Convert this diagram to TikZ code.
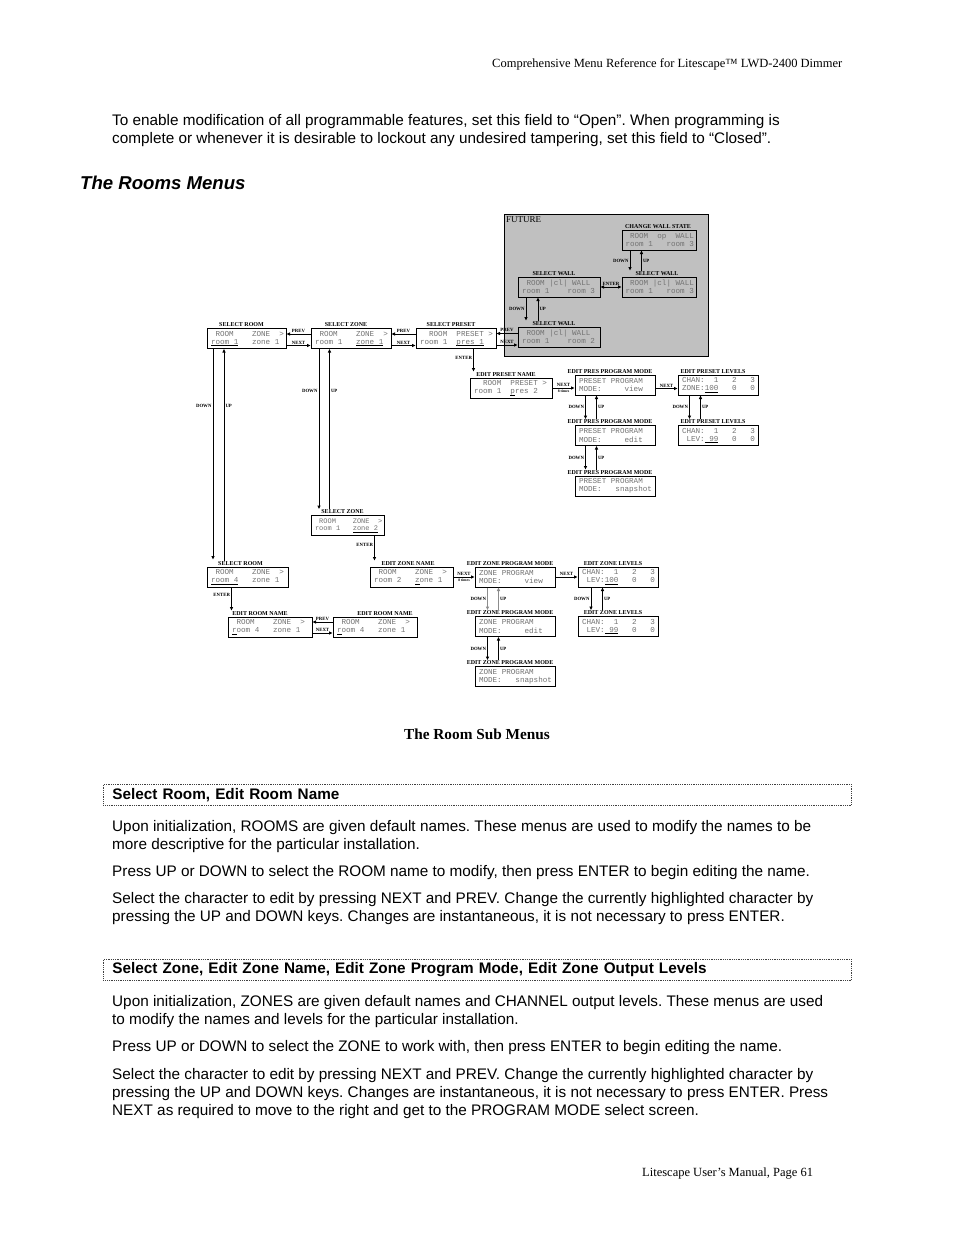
\documentclass[tikz,border=0pt]{standalone}
\usepackage{fontspec}
\setmainfont{Liberation Serif}
\setsansfont{Liberation Sans}
\setmonofont{Liberation Mono}
\usepackage{xcolor}
\usepackage{tikz}
\usetikzlibrary{positioning,arrows.meta}
\definecolor{futuregray}{RGB}{192,192,192}
\newcommand\lcdul[1]{\leavevmode\setbox0=\hbox{#1}\rlap{\color{black}\rule[-1.6pt]{\wd0}{0.9pt}}\box0}
\newcommand\lcdsp{\leavevmode\kern0.6em\relax}
\frenchspacing

\begin{document}
\begin{tikzpicture}[x=1pt, y=-1pt,
  txt/.style   = {font=\sffamily\fontsize{15.3}{18}\selectfont, anchor=base west, inner sep=0pt},
  serif/.style = {font=\fontsize{12.5}{15}\selectfont, anchor=base west, inner sep=0pt},
  sect/.style  = {draw=black!75, densely dotted, line width=0.8pt, anchor=north west,
                  text width=730pt, inner xsep=9pt, inner ysep=0pt, minimum height=21pt,
                  align=left, font=\sffamily\bfseries\fontsize{15.3}{18}\selectfont},
  lcd/.style   = {draw, line width=1pt, text width=72pt, inner xsep=4pt, inner ysep=0pt,
                  minimum height=20pt, align=left, text=black!55,
                  font=\ttfamily\fontsize{7.6}{8.4}\selectfont\let~\lcdsp},
  ttl/.style   = {font=\bfseries\fontsize{6}{6}\selectfont, inner sep=0.5pt, xshift=-5pt},
  lbl/.style   = {font=\bfseries\fontsize{4.8}{5}\selectfont, inner sep=1pt},
  ar/.style    = {-{Triangle[length=3.5pt,width=3pt]}, line width=1pt},
  arr/.style   = {{Triangle[length=3.5pt,width=3pt]}-{Triangle[length=3.5pt,width=3pt]},
                  line width=1pt}
]
\useasboundingbox (0,0) rectangle (954,1235);
\fill[white] (0,0) rectangle (954,1235);

% ---- page text above the diagram -------------------------------------------
\node[serif] (hdr) at (492,67) {Comprehensive Menu Reference for Litescape™ LWD-2400 Dimmer};
\node[txt] (p1a) at (112,125) {To enable modification of all programmable features, set this field to “Open”. When programming is};
\node[txt] (p1b) at (112,143) {complete or whenever it is desirable to lockout any undesired tampering, set this field to “Closed”.};
\node[txt, font=\sffamily\bfseries\itshape\fontsize{18.6}{22}\selectfont] (hd) at (80,189) {The Rooms Menus};

% ---- future (wall) area ----------------------------------------------------
\node[draw, line width=0.8pt, fill=futuregray, anchor=north west,
      minimum width=204pt, minimum height=142pt] (fut) at (504,214) {};
\node[anchor=north west, inner sep=2pt, font=\fontsize{9}{9}\selectfont] (futt) at (fut.north west) {FUTURE};

\node[lcd, text width=67pt, inner xsep=3.5pt] (cws) at (659,240) {~ROOM~~op~~WALL\\room~1~~~room~3};
\node[ttl, above=0.5pt of cws, xshift=4pt] (cwst) {CHANGE WALL STATE};
\node[lcd, text width=74pt] (sw2) at (559,287) {~ROOM~|cl|~WALL\\room~1~~~~room~3};
\node[ttl, above=0.5pt of sw2] (sw2t) {SELECT WALL};
\node[lcd, text width=67pt, inner xsep=3.5pt] (sw3) at (659,287) {~ROOM~|cl|~WALL\\room~1~~~room~3};
\node[ttl, above=0.5pt of sw3, xshift=3pt] (sw3t) {SELECT WALL};
\node[lcd, text width=74pt] (sw1) at (559,337) {~ROOM~|cl|~WALL\\room~1~~~~room~2};
\node[ttl, above=0.5pt of sw1] (sw1t) {SELECT WALL};

\draw[ar] ([xshift=8.5pt]cws.south west) -- node[lbl, left]{DOWN} ([xshift=8.5pt]cws.south west |- sw3t.north);
\draw[ar] ([xshift=20pt]cws.south west |- sw3t.north) -- node[lbl, right]{UP} ([xshift=20pt]cws.south west);
\draw[arr] (sw2.east) -- node[lbl, above]{ENTER} (sw2.east -| sw3.west);
\draw[ar] ([xshift=8.5pt]sw2.south west) -- node[lbl, left]{DOWN} ([xshift=8.5pt]sw2.south west |- sw1t.north);
\draw[ar] ([xshift=20.5pt]sw2.south west |- sw1t.north) -- node[lbl, right]{UP} ([xshift=20.5pt]sw2.south west);

% ---- top row: room, zone, preset -------------------------------------------
\node[lcd, text width=71pt] (sr1) at (246.5,338.5) {~ROOM~~~~ZONE~~>\\\lcdul{room~1}~~~zone~1};
\node[ttl, above=0.5pt of sr1] (sr1t) {SELECT ROOM};
\node[lcd] (sz1) at (351,338.5) {~ROOM~~~~ZONE~~>\\room~1~~~\lcdul{zone~1}};
\node[ttl, above=0.5pt of sz1] (sz1t) {SELECT ZONE};
\node[lcd] (sp1) at (456,338.5) {~~ROOM~~PRESET~>\\room~1~~\lcdul{pres~1}};
\node[ttl, above=0.5pt of sp1] (sp1t) {SELECT PRESET};

\draw[ar] ([yshift=4.5pt]sz1.west) -- node[lbl, above]{PREV} ([yshift=4.5pt]sr1.east);
\draw[ar] ([yshift=-7pt]sr1.east) -- node[lbl, above]{NEXT} ([yshift=-7pt]sz1.west);
\draw[ar] ([yshift=4.5pt]sp1.west) -- node[lbl, above]{PREV} ([yshift=4.5pt]sz1.east);
\draw[ar] ([yshift=-7pt]sz1.east) -- node[lbl, above]{NEXT} ([yshift=-7pt]sp1.west);
\draw[ar] ([yshift=3.5pt]sw1.west) -- node[lbl, above]{PREV} ([yshift=3.5pt]sw1.west -| sp1.east);
\draw[ar] ([yshift=-8pt]sw1.west -| sp1.east) -- node[lbl, above]{NEXT} ([yshift=-8pt]sw1.west);

% ---- preset branch ---------------------------------------------------------
\node[lcd, text width=74pt] (epn) at (511,388) {~~ROOM~~PRESET~>\\room~1~~\lcdul{p}res~2};
\node[ttl, above=0.5pt of epn] (epnt) {EDIT PRESET NAME};
\node[lcd] (ppv) at (615,385) {PRESET~PROGRAM\\MODE:~~~~~view};
\node[ttl, above=0.5pt of ppv] (ppvt) {EDIT PRES PROGRAM MODE};
\node[lcd] (plv) at (718,385) {CHAN:~~1~~~2~~~3\\ZONE:\lcdul{100}~~~0~~~0};
\node[ttl, above=0.5pt of plv] (plvt) {EDIT PRESET LEVELS};
\node[lcd] (ppe) at (615,435.5) {PRESET~PROGRAM\\MODE:~~~~~edit};
\node[ttl, above=0.5pt of ppe] (ppet) {EDIT PRES PROGRAM MODE};
\node[lcd] (plx) at (718,435.5) {CHAN:~~1~~~2~~~3\\~LEV:\lcdul{~99}~~~0~~~0};
\node[ttl, above=0.5pt of plx] (plxt) {EDIT PRESET LEVELS};
\node[lcd] (pps) at (615,486) {PRESET~PROGRAM\\MODE:~~~snapshot};
\node[ttl, above=0.5pt of pps] (ppst) {EDIT PRES PROGRAM MODE};

\draw[ar] ([xshift=4pt]epn.north west |- sp1.south) -- node[lbl, left, pos=0.4]{ENTER} ([xshift=4pt]epn.north west |- epnt.north);
\draw[ar] (epn.east) -- node[lbl, above]{NEXT}
  node[lbl, below, font=\bfseries\fontsize{3.8}{4}\selectfont]{8 times} (epn.east -| ppv.west);
\draw[ar] ([yshift=-3.5pt]ppv.east) -- node[lbl, above]{NEXT} ([yshift=-3.5pt]ppv.east -| plv.west);
\draw[ar] ([xshift=11pt]ppv.south west) -- node[lbl, left]{DOWN} ([xshift=11pt]ppv.south west |- ppet.north);
\draw[ar] ([xshift=22pt]ppv.south west |- ppet.north) -- node[lbl, right]{UP} ([xshift=22pt]ppv.south west);
\draw[ar] ([xshift=11pt]ppe.south west) -- node[lbl, left]{DOWN} ([xshift=11pt]ppe.south west |- ppst.north);
\draw[ar] ([xshift=22pt]ppe.south west |- ppst.north) -- node[lbl, right]{UP} ([xshift=22pt]ppe.south west);
\draw[ar] ([xshift=12pt]plv.south west) -- node[lbl, left]{DOWN} ([xshift=12pt]plv.south west |- plxt.north);
\draw[ar] ([xshift=23pt]plv.south west |- plxt.north) -- node[lbl, right]{UP} ([xshift=23pt]plv.south west);

% ---- room and zone, lower part ---------------------------------------------
\node[lcd, text width=65pt, font=\ttfamily\fontsize{7}{7.8}\selectfont\let~\lcdsp] (sz2) at (347.5,525.5) {~ROOM~~~~ZONE~~>\\room~1~~~\lcdul{zone~2}};
\node[ttl, above=0.5pt of sz2] (sz2t) {SELECT ZONE};
\draw[ar] ([xshift=8.5pt]sz1.south west) -- node[lbl, left, pos=0.26]{DOWN} ([xshift=8.5pt]sz1.south west |- sz2t.north);
\draw[ar] ([xshift=19pt]sz1.south west |- sz2t.north) -- node[lbl, right, pos=0.74]{UP} ([xshift=19pt]sz1.south west);

\node[lcd, text width=73pt] (sr4) at (247.5,577) {~ROOM~~~~ZONE~~>\\\lcdul{room~4}~~~zone~1};
\node[ttl, above=0.5pt of sr4, xshift=-2pt] (sr4t) {SELECT ROOM};
\draw[ar, shorten >=1pt] ([xshift=6.5pt]sr1.south west) -- node[lbl, left, pos=0.27]{DOWN} ([xshift=6.5pt]sr1.south west |- sr4t.north);
\draw[ar] ([xshift=17.5pt]sr1.south west |- sr4t.north) -- node[lbl, right, pos=0.73]{UP} ([xshift=17.5pt]sr1.south west);

\node[lcd, text width=76pt] (ern1) at (270,627) {~ROOM~~~~ZONE~~>\\\lcdul{r}oom~4~~~zone~1};
\node[ttl, above=0.5pt of ern1, xshift=-5pt] (ern1t) {EDIT ROOM NAME};
\node[lcd, text width=76pt] (ern2) at (375,627) {~ROOM~~~~ZONE~~>\\\lcdul{r}oom~4~~~zone~1};
\node[ttl, above=0.5pt of ern2, xshift=15pt] (ern2t) {EDIT ROOM NAME};
\draw[ar] ([xshift=4pt]ern1.north west |- sr4.south) -- node[lbl, left, pos=0.3]{ENTER} ([xshift=4pt]ern1.north west |- ern1t.north);
\draw[ar] ([yshift=5pt]ern2.west) -- node[lbl, above]{PREV} ([yshift=5pt]ern1.east);
\draw[ar] ([yshift=-6pt]ern1.east) -- node[lbl, above]{NEXT} ([yshift=-6pt]ern2.west);

\node[lcd, text width=75pt] (ezn) at (411.5,577) {~ROOM~~~~ZONE~~>\\room~2~~~\lcdul{z}one~1};
\node[ttl, above=0.5pt of ezn, xshift=1.5pt] (eznt) {EDIT ZONE NAME};
\draw[ar] ([xshift=5pt]ezn.north west |- sz2.south) -- node[lbl, left, pos=0.35]{ENTER} ([xshift=5pt]ezn.north west |- eznt.north);

\node[lcd] (ezpv) at (515,577) {ZONE~PROGRAM\\MODE:~~~~~view};
\node[ttl, above=0.5pt of ezpv] (ezpvt) {EDIT ZONE PROGRAM MODE};
\node[lcd] (ezl) at (618,577) {CHAN:~~1~~~2~~~3\\~LEV:\lcdul{100}~~~0~~~0};
\node[ttl, above=0.5pt of ezl] (ezlt) {EDIT ZONE LEVELS};
\node[lcd] (ezpe) at (515,626.5) {ZONE~PROGRAM\\MODE:~~~~~edit};
\node[ttl, above=0.5pt of ezpe] (ezpet) {EDIT ZONE PROGRAM MODE};
\node[lcd] (ezlx) at (618,626.5) {CHAN:~~1~~~2~~~3\\~LEV:\lcdul{~99}~~~0~~~0};
\node[ttl, above=0.5pt of ezlx] (ezlxt) {EDIT ZONE LEVELS};
\node[lcd] (ezps) at (515,676.5) {ZONE~PROGRAM\\MODE:~~~snapshot};
\node[ttl, above=0.5pt of ezps] (ezpst) {EDIT ZONE PROGRAM MODE};

\draw[ar] (ezn.east) -- node[lbl, above]{NEXT}
  node[lbl, below, font=\bfseries\fontsize{3.8}{4}\selectfont]{8 times} (ezn.east -| ezpv.west);
\draw[ar] (ezpv.east) -- node[lbl, above]{NEXT} (ezl.west);
\draw[ar, black!45] ([xshift=13pt]ezpv.south west) -- node[lbl, left, black]{DOWN} ([xshift=13pt]ezpv.south west |- ezpet.north);
\draw[ar, black!45] ([xshift=24pt]ezpv.south west |- ezpet.north) -- node[lbl, right, black]{UP} ([xshift=24pt]ezpv.south west);
\draw[ar] ([xshift=13pt]ezpe.south west) -- node[lbl, left]{DOWN} ([xshift=13pt]ezpe.south west |- ezpst.north);
\draw[ar] ([xshift=24pt]ezpe.south west |- ezpst.north) -- node[lbl, right]{UP} ([xshift=24pt]ezpe.south west);
\draw[ar] ([xshift=13.5pt]ezl.south west) -- node[lbl, left]{DOWN} ([xshift=13.5pt]ezl.south west |- ezlxt.north);
\draw[ar] ([xshift=25pt]ezl.south west |- ezlxt.north) -- node[lbl, right]{UP} ([xshift=25pt]ezl.south west);

% ---- caption and the two sections ------------------------------------------
\node[font=\bfseries\fontsize{15.3}{18}\selectfont, anchor=base, inner sep=0pt] (cap) at (477,739) {The Room Sub Menus};

\node[sect] (sec1) at (103,784) {Select Room, Edit Room Name};
\node[txt] (p2a) at (112,831) {Upon initialization, ROOMS are given default names. These menus are used to modify the names to be};
\node[txt] (p2b) at (112,849) {more descriptive for the particular installation.};
\node[txt] (p3)  at (112,876) {Press UP or DOWN to select the ROOM name to modify, then press ENTER to begin editing the name.};
\node[txt] (p4a) at (112,903) {Select the character to edit by pressing NEXT and PREV. Change the currently highlighted character by};
\node[txt] (p4b) at (112,921) {pressing the UP and DOWN keys. Changes are instantaneous, it is not necessary to press ENTER.};

\node[sect] (sec2) at (103,959) {Select Zone, Edit Zone Name, Edit Zone Program Mode, Edit Zone Output Levels};
\node[txt] (p5a) at (112,1006) {Upon initialization, ZONES are given default names and CHANNEL output levels. These menus are used};
\node[txt] (p5b) at (112,1024) {to modify the names and levels for the particular installation.};
\node[txt] (p6)  at (112,1051) {Press UP or DOWN to select the ZONE to work with, then press ENTER to begin editing the name.};
\node[txt] (p7a) at (112,1079) {Select the character to edit by pressing NEXT and PREV. Change the currently highlighted character by};
\node[txt] (p7b) at (112,1097) {pressing the UP and DOWN keys. Changes are instantaneous, it is not necessary to press ENTER. Press};
\node[txt] (p7c) at (112,1115) {NEXT as required to move to the right and get to the PROGRAM MODE select screen.};

\node[serif] (ftr) at (642,1176) {Litescape User’s Manual, Page 61};
\end{tikzpicture}
\end{document}
